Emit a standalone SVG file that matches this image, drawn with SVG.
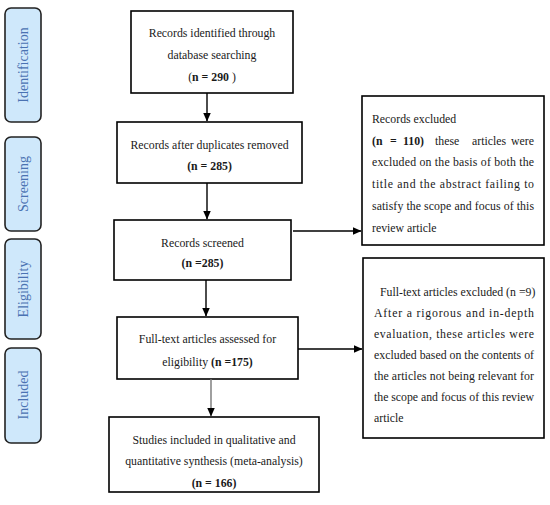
<svg xmlns="http://www.w3.org/2000/svg" width="550" height="505" viewBox="0 0 550 505">
<defs>
<marker id="ah" markerWidth="9" markerHeight="8" refX="8.5" refY="4" orient="auto" markerUnits="userSpaceOnUse">
<path d="M0,0 L9,4 L0,8 z" fill="#000"/>
</marker>
<style>
.stage{fill:#cfe8fb;stroke:#222;stroke-width:1.6}
.stxt{font-family:"Liberation Serif",serif;font-size:14px;fill:#4a72b2;text-anchor:middle}
.box{fill:#fff;stroke:#000;stroke-width:1.6}
.t{font-family:"Liberation Serif",serif;font-size:11.8px;fill:#1a1a1a}
.c{text-anchor:middle}
.b{font-weight:bold}
.ln{stroke:#000;stroke-width:1.4;fill:none}
.grey{stroke:#777}
</style>
</defs>
<rect width="550" height="505" fill="#fff"/>
<g id="stage-identification"><rect class="stage" x="5" y="8" width="36" height="114" rx="6"/><text class="stxt" transform="translate(28,65) rotate(-90)">Identification</text></g>
<g id="stage-screening"><rect class="stage" x="5" y="137" width="36" height="94" rx="6"/><text class="stxt" transform="translate(28,184) rotate(-90)">Screening</text></g>
<g id="stage-eligibility"><rect class="stage" x="5" y="239" width="36" height="100" rx="6"/><text class="stxt" transform="translate(28,289) rotate(-90)">Eligibility</text></g>
<g id="stage-included"><rect class="stage" x="5" y="348" width="36" height="95" rx="6"/><text class="stxt" transform="translate(28,395) rotate(-90)">Included</text></g>
<g id="n1"><rect class="box" x="131" y="11" width="162" height="82"/>
<text class="t c" x="212" y="37">Records identified through</text>
<text class="t c" x="212" y="59">database searching</text>
<text class="t c" x="212" y="81">(<tspan class="b">n = 290</tspan> )</text></g>
<g id="n2"><rect class="box" x="117" y="122" width="185" height="61"/>
<text class="t c" x="209.5" y="149">Records after duplicates removed</text>
<text class="t c b" x="209.5" y="170">(n = 285)</text></g>
<g id="n3"><rect class="box" x="114" y="220" width="177" height="60"/>
<text class="t c" x="202.5" y="247">Records screened</text>
<text class="t c b" x="202.5" y="267">(n =285)</text></g>
<g id="n4"><rect class="box" x="117" y="317" width="181" height="62"/>
<text class="t c" x="207.5" y="343">Full-text articles assessed for</text>
<text class="t c" x="207.5" y="366">eligibility <tspan class="b">(n =175)</tspan></text></g>
<g id="n5"><rect class="box" x="109" y="417" width="210" height="75"/>
<text class="t c" x="214" y="444">Studies included in qualitative and</text>
<text class="t c" x="214" y="465">quantitative synthesis (meta-analysis)</text>
<text class="t c b" x="214" y="487">(n = 166)</text></g>
<g id="r1"><rect class="box" x="362" y="96" width="182" height="149"/>
<text class="t" x="372" y="123">Records excluded</text>
<text class="t" y="145"><tspan class="b" x="372">(n</tspan><tspan class="b" x="390">=</tspan><tspan class="b" x="403">110)</tspan><tspan x="435">these</tspan><tspan x="472">articles</tspan><tspan x="511">were</tspan></text>
<text class="t" x="372" y="166" textLength="162" lengthAdjust="spacing">excluded on the basis of both the</text>
<text class="t" x="372" y="188" textLength="162" lengthAdjust="spacing">title and the abstract failing to</text>
<text class="t" x="372" y="210" textLength="162" lengthAdjust="spacing">satisfy the scope and focus of this</text>
<text class="t" x="372" y="232">review article</text></g>
<g id="r2"><rect class="box" x="363" y="258" width="181" height="180"/>
<text class="t" x="380" y="296">Full-text articles excluded (n =9)</text>
<text class="t" x="374" y="317" textLength="160" lengthAdjust="spacing">After a rigorous and in-depth</text>
<text class="t" x="374" y="338" textLength="160" lengthAdjust="spacing">evaluation, these articles were</text>
<text class="t" x="374" y="359" textLength="160" lengthAdjust="spacing">excluded based on the contents of</text>
<text class="t" x="374" y="380" textLength="160" lengthAdjust="spacing">the articles not being relevant for</text>
<text class="t" x="374" y="401" textLength="160" lengthAdjust="spacing">the scope and focus of this review</text>
<text class="t" x="374" y="422">article</text></g>
<g id="connectors">
<line class="ln" x1="207" y1="93" x2="207" y2="121" marker-end="url(#ah)"/>
<line class="ln" x1="207" y1="183" x2="207" y2="219" marker-end="url(#ah)"/>
<line class="ln" x1="206" y1="280" x2="206" y2="316" marker-end="url(#ah)"/>
<line class="ln grey" x1="211" y1="379" x2="211" y2="416" marker-end="url(#ah)"/>
<line class="ln" x1="293" y1="231" x2="361" y2="231" marker-end="url(#ah)"/>
<line class="ln" x1="298" y1="349" x2="362" y2="349" marker-end="url(#ah)"/>
</g>
</svg>
